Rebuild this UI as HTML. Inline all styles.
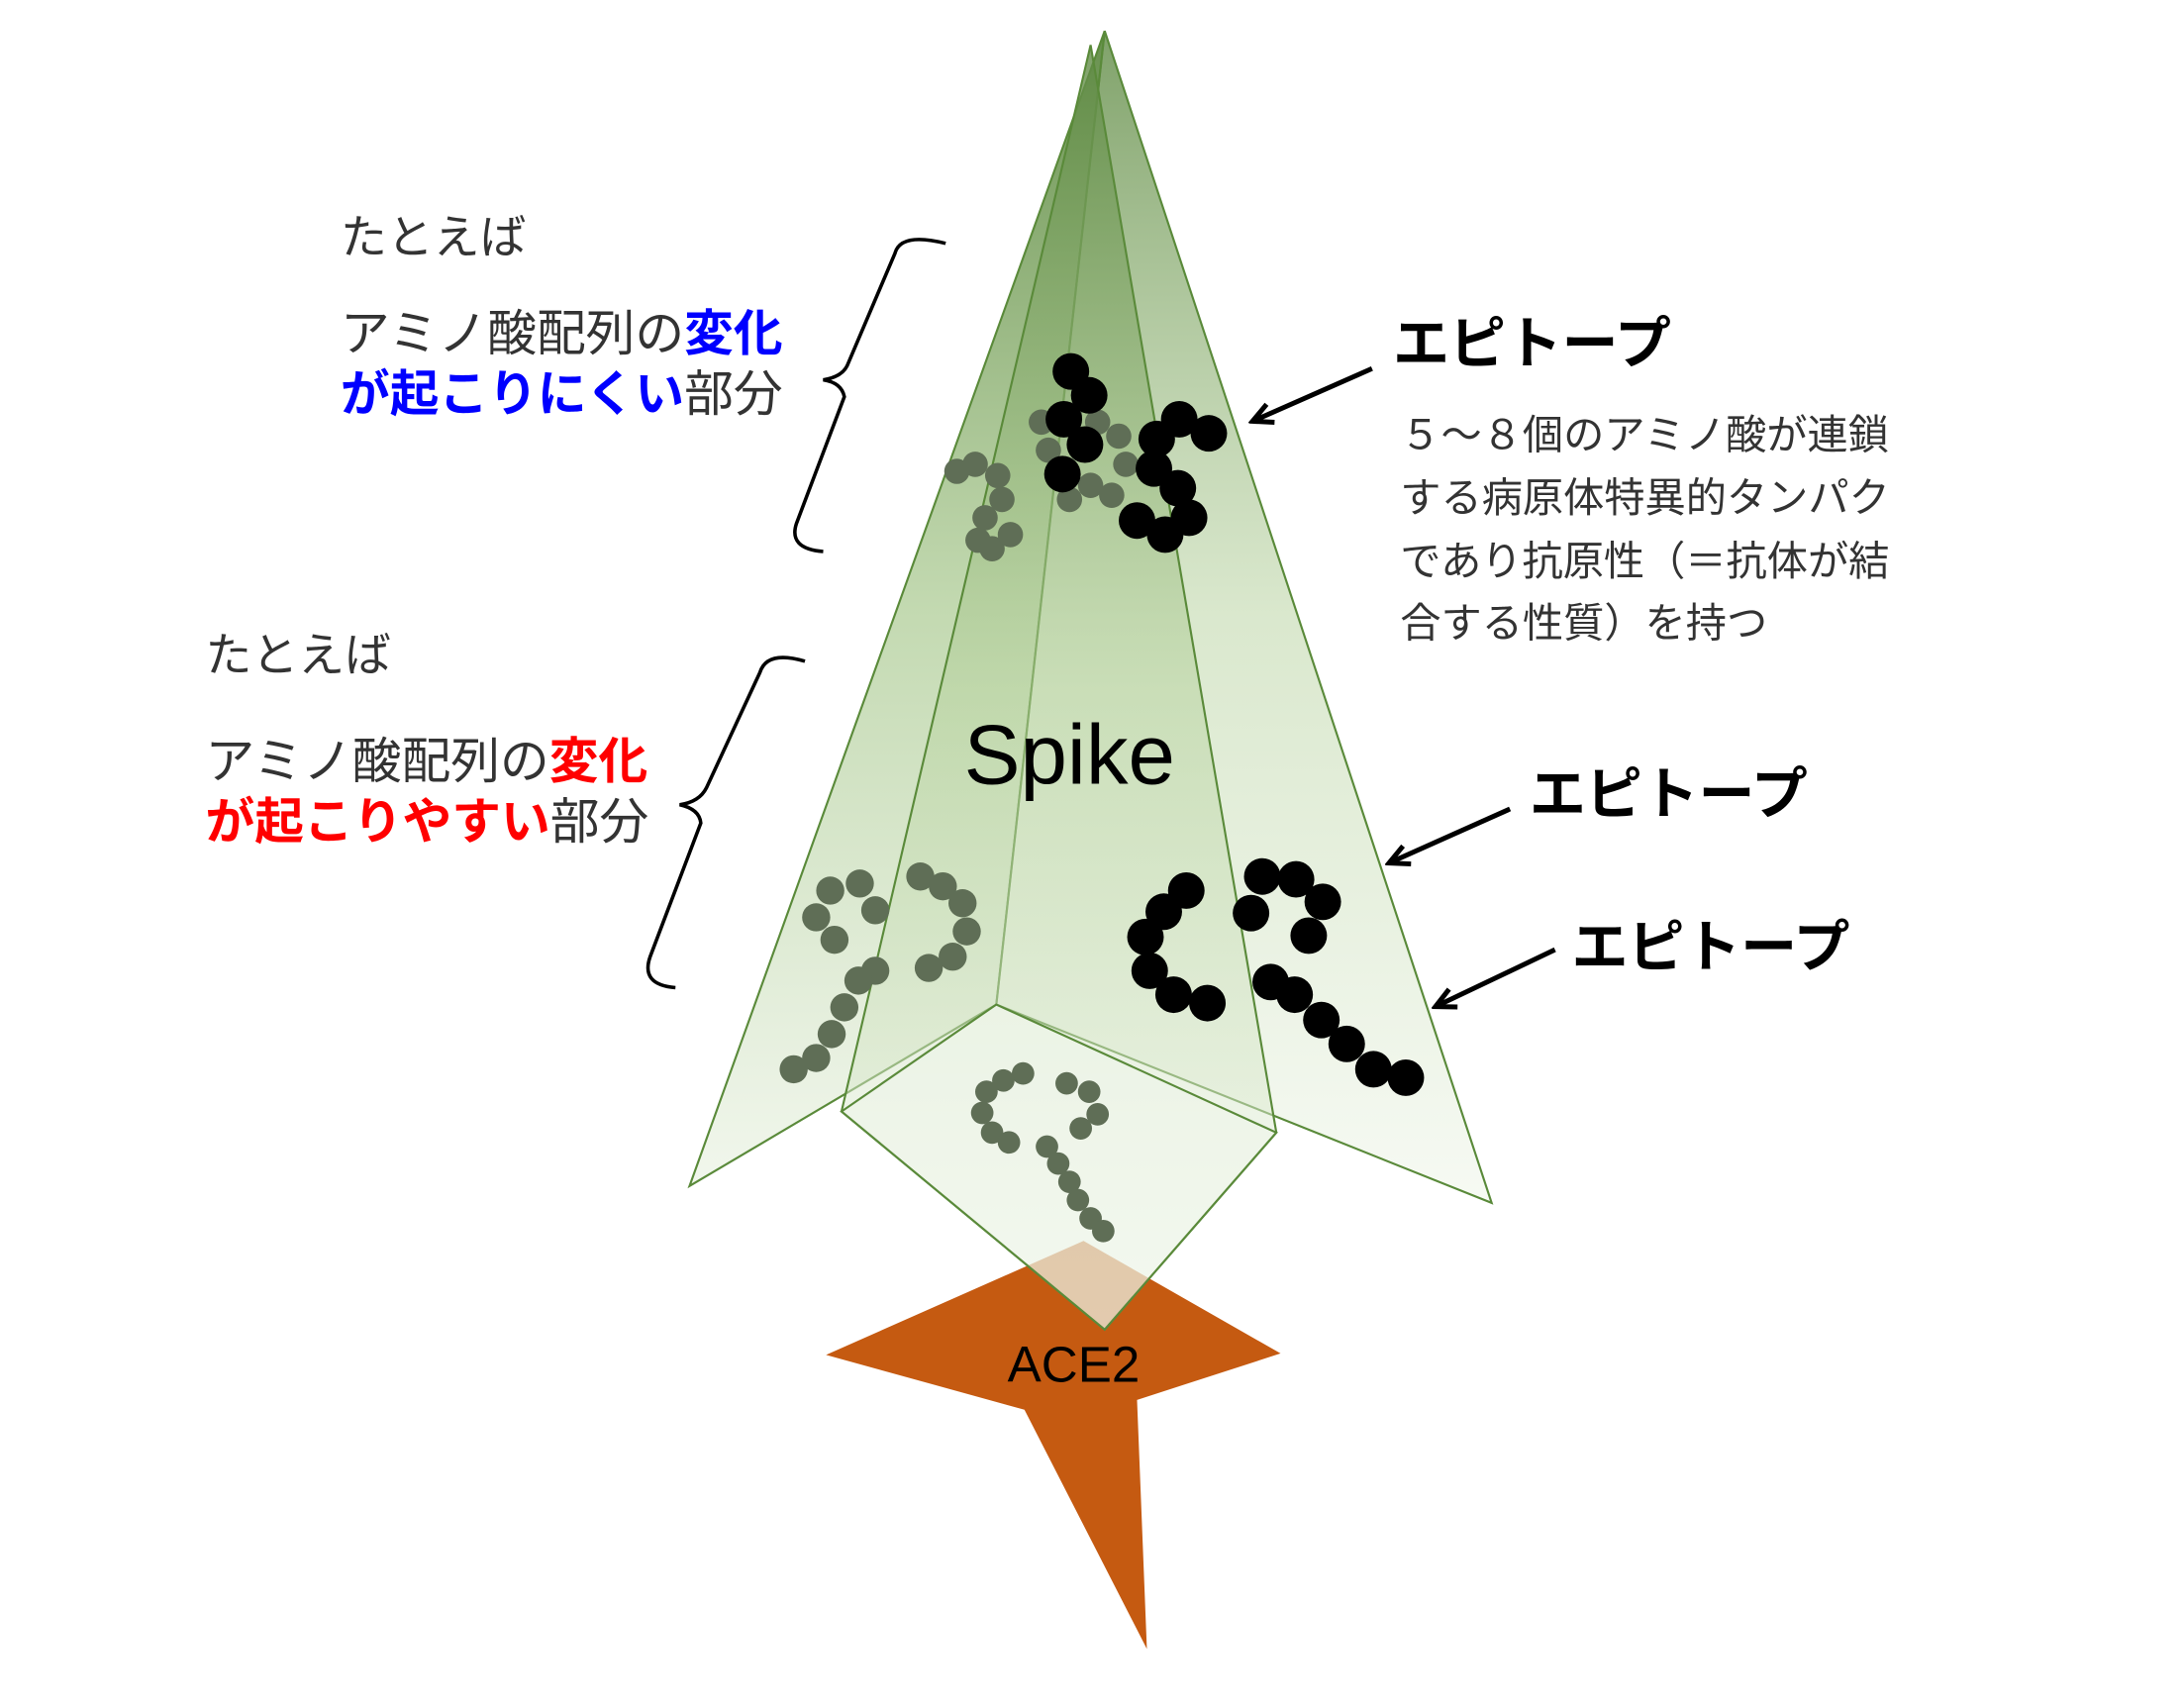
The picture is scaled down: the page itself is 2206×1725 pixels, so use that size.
<!DOCTYPE html>
<html><head><meta charset="utf-8"><style>
html,body{margin:0;padding:0;background:#fff;}
svg{display:block;}
text{font-family:"Liberation Sans","Noto Sans CJK JP",sans-serif;}
</style></head><body>
<svg width="2206" height="1725" viewBox="0 0 1552 1214" preserveAspectRatio="none" xmlns="http://www.w3.org/2000/svg">
<defs>
<linearGradient id="g1" x1="0" y1="0" x2="0" y2="1">
<stop offset="0" stop-color="#5f8a44" stop-opacity="0.95"/>
<stop offset="0.5" stop-color="#a9c98f" stop-opacity="0.7"/>
<stop offset="1" stop-color="#e8f1e0" stop-opacity="0.6"/>
</linearGradient>
<linearGradient id="g2" x1="0" y1="0" x2="0" y2="1">
<stop offset="0" stop-color="#5f8a44" stop-opacity="0.8"/>
<stop offset="0.5" stop-color="#b5d19c" stop-opacity="0.5"/>
<stop offset="1" stop-color="#eef5e8" stop-opacity="0.5"/>
</linearGradient>
<marker id="ah" markerWidth="18" markerHeight="18" refX="14" refY="9" orient="auto" markerUnits="userSpaceOnUse">
<path d="M1,2 L15,9 L1,16" fill="none" stroke="#000" stroke-width="3.5"/>
</marker>
</defs>
<polygon points="587,963 770,882 910,962 808,995 815,1172 728,1002" fill="#c55a11"/>
<polygon points="785,22 490,843 708,714" fill="url(#g1)" stroke="#5a8a3a" stroke-width="1.5"/>
<polygon points="785,22 708,714 1060,855" fill="url(#g2)" stroke="#5a8a3a" stroke-width="1.5"/>
<polygon points="775,32 598,790 785,945 907,805" fill="url(#g2)" stroke="#5a8a3a" stroke-width="1.5"/>
<polygon points="708,714 907,805 785,945 598,790" fill="#f0f6ea" fill-opacity="0.45" stroke="#5a8a3a" stroke-width="1.5"/>
<text x="763" y="982" font-size="36" text-anchor="middle" fill="#000">ACE2</text>
<text x="760" y="557" font-size="60" text-anchor="middle" fill="#000">Spike</text>
<g fill="#5f6e56">
<circle cx="693" cy="330" r="9"/><circle cx="709" cy="338" r="9"/><circle cx="712" cy="355" r="9"/><circle cx="700" cy="368" r="9"/><circle cx="695" cy="384" r="9"/><circle cx="705" cy="390" r="9"/><circle cx="718" cy="380" r="9"/><circle cx="680" cy="335" r="9"/>
<circle cx="740" cy="300" r="9"/><circle cx="760" cy="295" r="9"/><circle cx="780" cy="300" r="9"/><circle cx="795" cy="310" r="9"/><circle cx="745" cy="320" r="9"/><circle cx="760" cy="355" r="9"/><circle cx="775" cy="345" r="9"/><circle cx="790" cy="352" r="9"/><circle cx="800" cy="330" r="9"/>
<circle cx="590" cy="633" r="10"/><circle cx="611" cy="628" r="10"/><circle cx="622" cy="647" r="10"/><circle cx="580" cy="652" r="10"/><circle cx="593" cy="668" r="10"/><circle cx="622" cy="690" r="10"/><circle cx="610" cy="697" r="10"/><circle cx="600" cy="716" r="10"/><circle cx="591" cy="735" r="10"/><circle cx="580" cy="752" r="10"/><circle cx="564" cy="760" r="10"/>
<circle cx="654" cy="623" r="10"/><circle cx="670" cy="630" r="10"/><circle cx="684" cy="642" r="10"/><circle cx="687" cy="662" r="10"/><circle cx="677" cy="680" r="10"/><circle cx="660" cy="688" r="10"/>
<circle cx="727" cy="763" r="8"/><circle cx="713" cy="768" r="8"/><circle cx="701" cy="776" r="8"/><circle cx="698" cy="791" r="8"/><circle cx="705" cy="805" r="8"/><circle cx="717" cy="812" r="8"/>
<circle cx="758" cy="770" r="8"/><circle cx="774" cy="776" r="8"/><circle cx="780" cy="792" r="8"/><circle cx="768" cy="802" r="8"/><circle cx="744" cy="815" r="8"/><circle cx="752" cy="827" r="8"/><circle cx="760" cy="840" r="8"/><circle cx="766" cy="853" r="8"/><circle cx="775" cy="866" r="8"/><circle cx="784" cy="875" r="8"/>
</g>
<g fill="#000">
<circle cx="761" cy="264" r="13"/><circle cx="774" cy="281" r="13"/><circle cx="756" cy="298" r="13"/><circle cx="771" cy="316" r="13"/><circle cx="755" cy="337" r="13"/>
<circle cx="838" cy="298" r="13"/><circle cx="859" cy="308" r="13"/><circle cx="822" cy="312" r="13"/><circle cx="820" cy="333" r="13"/><circle cx="837" cy="347" r="13"/><circle cx="845" cy="368" r="13"/><circle cx="828" cy="380" r="13"/><circle cx="808" cy="370" r="13"/>
<circle cx="843" cy="633" r="13"/><circle cx="827" cy="648" r="13"/><circle cx="814" cy="666" r="13"/><circle cx="817" cy="690" r="13"/><circle cx="834" cy="707" r="13"/><circle cx="858" cy="713" r="13"/>
<circle cx="897" cy="623" r="13"/><circle cx="921" cy="625" r="13"/><circle cx="940" cy="641" r="13"/><circle cx="930" cy="665" r="13"/><circle cx="889" cy="649" r="13"/>
<circle cx="903" cy="698" r="13"/><circle cx="920" cy="707" r="13"/><circle cx="939" cy="725" r="13"/><circle cx="957" cy="742" r="13"/><circle cx="976" cy="760" r="13"/><circle cx="999" cy="766" r="13"/>
</g>
<path d="M672,173 Q640,165 636,180 L602,260 Q598,268 585,270 Q598,272 600,282 L566,372 Q560,390 585,392" fill="none" stroke="#000" stroke-width="2.5"/>
<path d="M572,470 Q545,462 540,478 L502,560 Q497,570 483,572 Q497,575 498,585 L462,680 Q455,700 480,702" fill="none" stroke="#000" stroke-width="2.5"/>
<line x1="975" y1="262" x2="891" y2="299" stroke="#000" stroke-width="3.5" marker-end="url(#ah)"/>
<line x1="1073" y1="575" x2="988" y2="613" stroke="#000" stroke-width="3.5" marker-end="url(#ah)"/>
<line x1="1105" y1="675" x2="1021" y2="715" stroke="#000" stroke-width="3.5" marker-end="url(#ah)"/>
<text x="242" y="180" font-size="33" fill="#333">たとえば</text>
<text x="242" y="249" font-size="35" fill="#333">アミノ酸配列の<tspan fill="#0000ff" font-weight="bold">変化</tspan></text>
<text x="242" y="292" font-size="35" fill="#333"><tspan fill="#0000ff" font-weight="bold">が起こりにくい</tspan>部分</text>
<text x="146" y="477" font-size="33" fill="#333">たとえば</text>
<text x="146" y="553" font-size="35" fill="#333">アミノ酸配列の<tspan fill="#ff0000" font-weight="bold">変化</tspan></text>
<text x="146" y="596" font-size="35" fill="#333"><tspan fill="#ff0000" font-weight="bold">が起こりやすい</tspan>部分</text>
<text x="990" y="258" font-size="40" font-weight="bold" fill="#000">エピトープ</text>
<text x="1087" y="578" font-size="40" font-weight="bold" fill="#000">エピトープ</text>
<text x="1117" y="687" font-size="40" font-weight="bold" fill="#000">エピトープ</text>
<g font-size="29" fill="#333">
<text x="995" y="319">５～８個のアミノ酸が連鎖</text>
<text x="995" y="364">する病原体特異的タンパク</text>
<text x="995" y="409">であり抗原性（＝抗体が結</text>
<text x="995" y="453">合する性質）を持つ</text>
</g>
</svg>
</body></html>
